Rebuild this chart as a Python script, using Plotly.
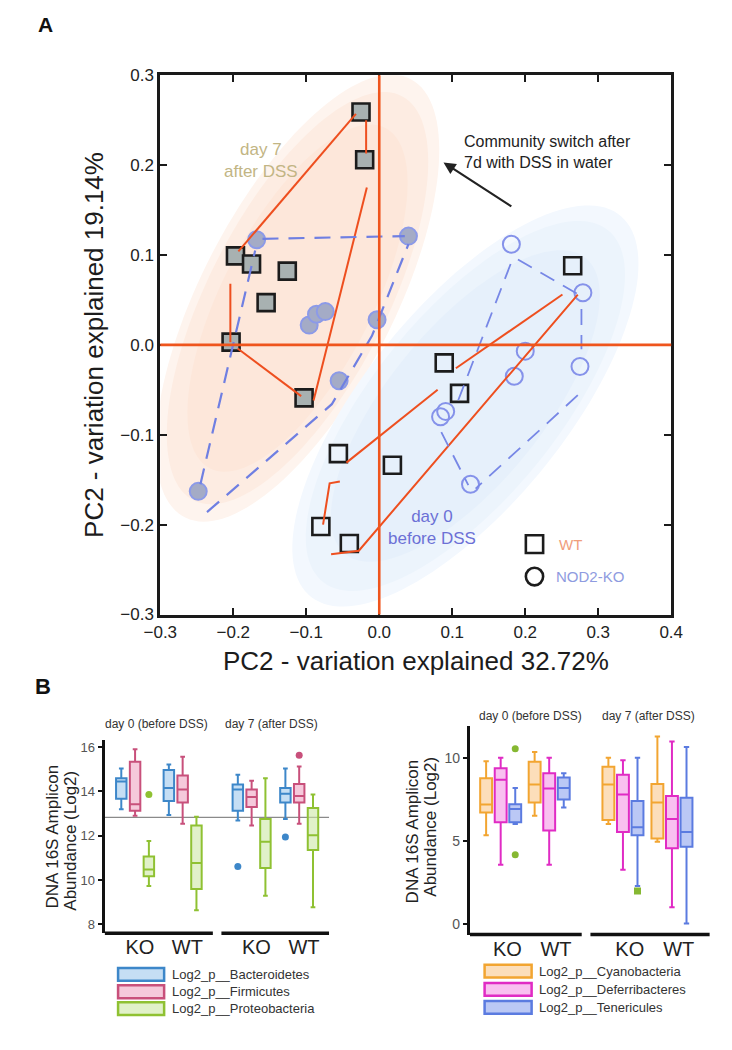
import numpy as np
import plotly.graph_objects as go

# page is 732x1050; the browser body keeps its default 8px margin, so the figure is 716x1034
PAGE_W, PAGE_H = 732, 1050
BODY = 8
W, H = PAGE_W - 2 * BODY, PAGE_H - 2 * BODY
FONT = "Liberation Sans, Arial, sans-serif"

# ---------------- Panel A : PCoA coordinates ----------------
wt_d7_x = [-0.025, -0.020, -0.197, -0.175, -0.126, -0.155, -0.203, -0.103]
wt_d7_y = [0.259, 0.206, 0.099, 0.090, 0.082, 0.047, 0.003, -0.059]
wt_d0_x = [0.265, -0.056, 0.018, -0.080, -0.041, 0.089, 0.110]
wt_d0_y = [0.088, -0.121, -0.134, -0.202, -0.221, -0.020, -0.054]
ko_d7_x = [-0.168, 0.040, -0.003, -0.096, -0.086, -0.074, -0.055, -0.248]
ko_d7_y = [0.117, 0.121, 0.028, 0.022, 0.034, 0.037, -0.040, -0.163]
ko_d0_x = [0.181, 0.279, 0.275, 0.200, 0.185, 0.084, 0.091, 0.125]
ko_d0_y = [0.112, 0.058, -0.024, -0.007, -0.035, -0.080, -0.074, -0.155]

# hull outlines as traced in the figure (None separates segments)
wt_hull_x = [-0.193, -0.032, None, -0.018, -0.018, None, -0.017, -0.090, None,
             -0.204, -0.204, None, -0.194, -0.107, None,
             -0.054, -0.068, -0.077, None, -0.066, -0.028, 0.272, None,
             -0.045, 0.080, None, 0.105, 0.251]
wt_hull_y = [0.104, 0.257, None, 0.250, 0.213, None, 0.175, -0.062, None,
             0.068, 0.003, None, -0.004, -0.057, None,
             -0.152, -0.154, -0.200, None, -0.233, -0.229, 0.056, None,
             -0.131, -0.050, None, -0.026, 0.056]
ko7_hull_x = [-0.236, -0.065, -0.010, 0.040, None, -0.160, 0.035, None, -0.245, -0.170]
ko7_hull_y = [-0.186, -0.066, 0.010, 0.112, None, 0.118, 0.121, None, -0.155, 0.105]
ko0_hull_x = [0.190, 0.275, None, 0.277, 0.277, None, 0.272, 0.132, None,
              0.085, 0.122, None, 0.180, 0.108]
ko0_hull_y = [0.095, 0.055, None, 0.040, -0.005, None, -0.056, -0.160, None,
              -0.097, -0.156, None, 0.090, -0.062]

pc_ticks = [-0.3, -0.2, -0.1, 0.0, 0.1, 0.2, 0.3, 0.4]

# ---------------- Panel B : box statistics ----------------
group_labels = ["KO", "WT", "KO", "WT"]
day_labels = ["day 0 (before DSS)", "day 7 (after DSS)"]

bact_low = [13.20, 12.94, 12.69, 12.76]
bact_q1 = [13.67, 13.57, 13.13, 13.50]
bact_med = [14.45, 14.16, 14.09, 13.90]
bact_q3 = [14.60, 14.97, 14.31, 14.16]
bact_high = [15.04, 15.22, 14.75, 15.04]
bact_out_grp = [2, 3]
bact_out_val = [10.62, 11.95]

firm_low = [12.90, 12.54, 12.47, 12.54]
firm_q1 = [13.13, 13.50, 13.30, 13.50]
firm_med = [13.42, 14.09, 13.75, 13.79]
firm_q3 = [15.34, 14.72, 14.09, 14.34]
firm_high = [15.90, 15.56, 14.48, 15.12]
firm_out_grp = [3]
firm_out_val = [15.63]

prot_low = [9.74, 8.64, 9.30, 8.78]
prot_q1 = [10.18, 9.60, 10.55, 11.36]
prot_med = [10.48, 10.77, 11.73, 12.02]
prot_q3 = [11.07, 12.47, 12.76, 13.25]
prot_high = [11.77, 12.86, 14.60, 13.86]
prot_out_grp = [0]
prot_out_val = [13.86]

ref_level = 12.83

cyan_low = [5.34, 6.52, 6.03, 4.95]
cyan_q1 = [6.72, 7.31, 6.27, 5.15]
cyan_med = [7.20, 8.39, 8.39, 7.31]
cyan_q3 = [8.78, 9.76, 9.47, 8.43]
cyan_high = [9.80, 10.35, 10.00, 11.28]

defe_low = [3.58, 3.58, 3.28, 1.02]
defe_q1 = [6.13, 5.64, 5.54, 4.56]
defe_med = [8.68, 8.15, 7.80, 6.33]
defe_q3 = [9.37, 9.08, 8.98, 7.70]
defe_high = [10.00, 10.00, 9.86, 10.98]

tene_low = [6.03, 7.01, 2.30, 0.04]
tene_q1 = [6.13, 7.50, 5.34, 4.66]
tene_med = [6.92, 8.19, 5.83, 5.54]
tene_q3 = [7.21, 8.82, 7.41, 7.60]
tene_high = [8.19, 9.08, 10.00, 10.65]
tene_out_grp = [0, 0, 2]
tene_out_val = [10.55, 4.17, 2.00]
tene_out_sym = ["circle", "circle", "square"]

left_names = ["Log2_p__Bacteroidetes", "Log2_p__Firmicutes", "Log2_p__Proteobacteria"]
right_names = ["Log2_p__Cyanobacteria", "Log2_p__Deferribacteres", "Log2_p__Tenericules"]


# ---------------- helpers (page pixel -> paper) ----------------
def fx(px):
    return (px - BODY) / W


def fy(py):
    return 1 - (py - BODY) / H


SX, SY = 760.7, 915.7  # px per data unit (panel A)


def ellipse_path(cx, cy, a, b, ang, scale=1.0):
    t = np.linspace(0, 2 * np.pi, 140)
    th = np.radians(ang)
    a, b = a * scale, b * scale
    ex = a * np.cos(t) * np.cos(th) - b * np.sin(t) * np.sin(th)
    ey = a * np.cos(t) * np.sin(th) + b * np.sin(t) * np.cos(th)
    xs = cx + ex / SX
    ys = cy + ey / SY
    return "M " + " L ".join(f"{x:.4f},{y:.4f}" for x, y in zip(xs, ys)) + " Z"


def note(px, py, text, size, color, xa="center", ya="middle", angle=0, align="center"):
    return dict(x=fx(px), y=fy(py), xref="paper", yref="paper", text=text,
                xanchor=xa, yanchor=ya, textangle=angle, align=align, showarrow=False,
                font=dict(size=size, color=color, family=FONT))


fig = go.Figure()
shapes = []
ann = []

# soft background ellipses
for sc, col in [(1.03, "#fef4ee"), (0.95, "#fdece2"), (0.8, "#fde7da")]:
    shapes.append(dict(type="path", xref="x", yref="y", layer="below",
                       path=ellipse_path(-0.112, 0.052, 245, 97, 62, sc),
                       fillcolor=col, line=dict(width=0)))
for sc, col in [(1.03, "#f3f8fe"), (0.95, "#ecf4fc"), (0.8, "#e6f0fb")]:
    shapes.append(dict(type="path", xref="x", yref="y", layer="below",
                       path=ellipse_path(0.118, -0.068, 245, 100, 50, sc),
                       fillcolor=col, line=dict(width=0)))

# markers
fig.add_trace(go.Scatter(x=wt_d7_x, y=wt_d7_y, mode="markers",
                         marker=dict(symbol="square", size=17, color="#a8b1b1",
                                     line=dict(color="#1c1c1c", width=2.6))))
fig.add_trace(go.Scatter(x=wt_d0_x, y=wt_d0_y, mode="markers",
                         marker=dict(symbol="square", size=17, color="rgba(0,0,0,0)",
                                     line=dict(color="#1c1c1c", width=2.6))))
fig.add_trace(go.Scatter(x=ko_d7_x, y=ko_d7_y, mode="markers",
                         marker=dict(symbol="circle", size=17, color="#a4abc6",
                                     line=dict(color="#8c9ae8", width=2))))
fig.add_trace(go.Scatter(x=ko_d0_x, y=ko_d0_y, mode="markers",
                         marker=dict(symbol="circle", size=17, color="rgba(0,0,0,0)",
                                     line=dict(color="#8592ea", width=2))))
# hull lines
fig.add_trace(go.Scatter(x=wt_hull_x, y=wt_hull_y, mode="lines", connectgaps=False,
                         line=dict(color="#ee4f1f", width=2)))
fig.add_trace(go.Scatter(x=ko7_hull_x, y=ko7_hull_y, mode="lines", connectgaps=False,
                         line=dict(color="#6f7fe2", width=2.2, dash="16px,10px")))
fig.add_trace(go.Scatter(x=ko0_hull_x, y=ko0_hull_y, mode="lines", connectgaps=False,
                         line=dict(color="#7787e6", width=1.8, dash="16px,10px")))

# orange zero lines drawn over the points
shapes.append(dict(type="line", xref="x", yref="y domain", x0=0, x1=0, y0=0, y1=1,
                   layer="above", line=dict(color="#ef551d", width=2.6)))
shapes.append(dict(type="line", xref="x domain", yref="y", x0=0, x1=1, y0=0, y1=0,
                   layer="above", line=dict(color="#ef551d", width=2.6)))

# panel A texts
ann.append(dict(x=-0.162, y=0.205, xref="x", yref="y", text="day 7<br>after DSS",
                xanchor="center", yanchor="middle", showarrow=False,
                font=dict(size=17, color="#c2b584", family=FONT)))
ann.append(dict(x=0.072, y=-0.203, xref="x", yref="y", text="day 0<br>before DSS",
                xanchor="center", yanchor="middle", showarrow=False,
                font=dict(size=17, color="#6c70d6", family=FONT)))
ann.append(dict(x=0.113, y=0.215, xref="x", yref="y", xanchor="left", yanchor="middle",
                text="Community switch after<br>7d with DSS in water", align="left",
                showarrow=False, font=dict(size=16, color="#222222", family=FONT)))
ann.append(dict(x=0.088, y=0.203, xref="x", yref="y", ax=0.183, ay=0.153,
                axref="x", ayref="y", text="", showarrow=True, arrowhead=2,
                arrowsize=1.1, arrowwidth=2.2, arrowcolor="#222222"))

# panel A legend
shapes.append(dict(type="rect", xref="paper", yref="paper",
                   x0=fx(530), x1=fx(548), y0=fy(554), y1=fy(536),
                   line=dict(color="#1c1c1c", width=2.6)))
shapes.append(dict(type="circle", xref="paper", yref="paper",
                   x0=fx(530), x1=fx(548), y0=fy(587), y1=fy(569),
                   line=dict(color="#1c1c1c", width=2.6)))
ann.append(note(562, 545, "WT", 15, "#f09d7c", xa="left"))
ann.append(note(559, 578, "NOD2-KO", 15, "#8f9be0", xa="left"))

# axis titles panel A and panel letters
ann.append(note(80, 342, "PC2 - variation explained 19.14%", 26, "#1c1c1c", angle=-90))
ann.append(note(415, 664, "PC2 - variation explained 32.72%", 26, "#1c1c1c"))
ann.append(note(29, 16, "<b>A</b>", 21, "#111111"))
ann.append(note(27, 690, "<b>B</b>", 22, "#111111"))

# ---------------- Panel B ----------------
left_pos = [1.0, 2.0, 3.45, 4.45]
right_pos = [1.0, 2.0, 3.52, 4.53]
L_OFF, R_OFF = 0.29, 0.30
left_range = [0.36, 5.08]
right_range = [0.366, 5.31]

left_series = [
    (bact_low, bact_q1, bact_med, bact_q3, bact_high, "#3d87c9", "rgba(150,195,235,0.55)", -L_OFF),
    (firm_low, firm_q1, firm_med, firm_q3, firm_high, "#c8507b", "rgba(238,165,195,0.6)", 0.0),
    (prot_low, prot_q1, prot_med, prot_q3, prot_high, "#8fc132", "rgba(205,232,165,0.6)", L_OFF),
]
right_series = [
    (cyan_low, cyan_q1, cyan_med, cyan_q3, cyan_high, "#f2a531", "rgba(250,200,140,0.6)", -R_OFF),
    (defe_low, defe_q1, defe_med, defe_q3, defe_high, "#e02bc4", "rgba(245,150,230,0.6)", 0.0),
    (tene_low, tene_q1, tene_med, tene_q3, tene_high, "#5b7be0", "rgba(150,170,240,0.65)", R_OFF),
]

for (lo, q1, md, q3, hi, lc, fc, off) in left_series:
    fig.add_trace(go.Box(x=[p + off for p in left_pos], lowerfence=lo, q1=q1, median=md,
                         q3=q3, upperfence=hi, xaxis="x2", yaxis="y2", width=0.22,
                         whiskerwidth=0.45, boxpoints=False, fillcolor=fc,
                         line=dict(color=lc, width=2)))
for (lo, q1, md, q3, hi, lc, fc, off) in right_series:
    fig.add_trace(go.Box(x=[p + off for p in right_pos], lowerfence=lo, q1=q1, median=md,
                         q3=q3, upperfence=hi, xaxis="x3", yaxis="y3", width=0.245,
                         whiskerwidth=0.45, boxpoints=False, fillcolor=fc,
                         line=dict(color=lc, width=2)))

# outliers
fig.add_trace(go.Scatter(x=[left_pos[g] - L_OFF for g in bact_out_grp], y=bact_out_val,
                         mode="markers", xaxis="x2", yaxis="y2",
                         marker=dict(color="#3d87c9", size=7)))
fig.add_trace(go.Scatter(x=[left_pos[g] for g in firm_out_grp], y=firm_out_val,
                         mode="markers", xaxis="x2", yaxis="y2",
                         marker=dict(color="#c8507b", size=7)))
fig.add_trace(go.Scatter(x=[left_pos[g] + L_OFF for g in prot_out_grp], y=prot_out_val,
                         mode="markers", xaxis="x2", yaxis="y2",
                         marker=dict(color="#8fc132", size=7)))
fig.add_trace(go.Scatter(x=[right_pos[g] + R_OFF for g in tene_out_grp], y=tene_out_val,
                         mode="markers", xaxis="x3", yaxis="y3",
                         marker=dict(color="#86b832", size=7, symbol=tene_out_sym)))

# reference line (left)
shapes.append(dict(type="line", xref="x2", yref="y2", x0=left_range[0], x1=left_range[1],
                   y0=ref_level, y1=ref_level, line=dict(color="#8a8a8a", width=1.2),
                   layer="below"))

# split x-axis baselines
for pos, rng, xr, yr in [(left_pos, left_range, "x2", "y2"), (right_pos, right_range, "x3", "y3")]:
    mid = (pos[1] + pos[2]) / 2
    for a0, a1 in [(rng[0], mid - 0.09), (mid + 0.09, rng[1])]:
        shapes.append(dict(type="line", xref=xr, yref=f"{yr} domain",
                           x0=a0, x1=a1, y0=0, y1=0, line=dict(color="#111111", width=3.5)))

# day labels
for txt, px, py in [(day_labels[0], 145, 728), (day_labels[1], 265, 728),
                    (day_labels[0], 535, 720), (day_labels[1], 658, 720)]:
    ann.append(note(px, py, txt, 12, "#333333"))

# y titles
for px, py, txt in [(37, 843, "DNA 16S Amplicon"), (55, 847, "Abundance (Log2)"),
                    (412, 838, "DNA 16S Amplicon"), (431, 833, "Abundance (Log2)")]:
    ann.append(note(px, py, txt, 17, "#222222", angle=-90))


# manual legends
def legend_block(x0, x1, ys, series, names):
    for yc, s, name in zip(ys, series, names):
        shapes.append(dict(type="rect", xref="paper", yref="paper",
                           x0=fx(x0), x1=fx(x1), y0=fy(yc + 6.5), y1=fy(yc - 6.5),
                           fillcolor=s[6], line=dict(color=s[5], width=2.5)))
        ann.append(note(x1 + 6, yc, name, 13, "#333333", xa="left"))


legend_block(105, 153, [983.3, 1001, 1018.3], left_series, left_names)
legend_block(487, 536, [980, 998.5, 1017], right_series, right_names)

axis_common = dict(showgrid=False, zeroline=False)
fig.update_layout(
    width=W, height=H, margin=dict(l=0, r=0, t=0, b=0),
    paper_bgcolor="white", plot_bgcolor="rgba(0,0,0,0)",
    showlegend=False, boxmode="overlay",
    font=dict(family=FONT),
    shapes=shapes, annotations=ann,
    xaxis=dict(domain=[fx(149), fx(681.5)], range=[-0.3, 0.4], anchor="y",
               tickvals=pc_ticks, tickformat=".1f", showgrid=False, zeroline=False,
               showline=True, linecolor="#1a1a1a", linewidth=3, mirror="ticks",
               ticks="inside", ticklen=7, tickwidth=2, tickcolor="#1a1a1a",
               tickfont=dict(size=17, color="#222222")),
    yaxis=dict(domain=[fy(616.7), fy(67.3)], range=[-0.3, 0.3], anchor="x",
               tickvals=pc_ticks[:-1], tickformat=".1f", showgrid=False, zeroline=False,
               showline=True, linecolor="#1a1a1a", linewidth=3, mirror="ticks",
               ticks="inside", ticklen=7, tickwidth=2, tickcolor="#1a1a1a",
               tickfont=dict(size=17, color="#222222")),
    xaxis2=dict(domain=[fx(91), fx(325)], range=left_range, anchor="y2",
                tickvals=[p + 0.1 for p in left_pos], ticktext=group_labels,
                ticks="", showline=False, tickfont=dict(size=20, color="#222222"),
                **axis_common),
    yaxis2=dict(domain=[fy(941.5), fy(745)], range=[7.6, 16.3], anchor="x2",
                tickvals=[8, 10, 12, 14, 16], showline=True, linecolor="#111111",
                linewidth=3, ticks="outside", ticklen=4, tickwidth=1.5,
                tickcolor="#111111", tickfont=dict(size=13, color="#555555"),
                **axis_common),
    xaxis3=dict(domain=[fx(471.7), fx(721.7)], range=right_range, anchor="y3",
                tickvals=[p + 0.14 for p in right_pos], ticktext=group_labels,
                ticks="", showline=False, tickfont=dict(size=20, color="#222222"),
                **axis_common),
    yaxis3=dict(domain=[fy(942.7), fy(730)], range=[-0.62, 11.93], anchor="x3",
                tickvals=[0, 5, 10], showline=True, linecolor="#111111",
                linewidth=3, ticks="outside", ticklen=4, tickwidth=1.5,
                tickcolor="#111111", tickfont=dict(size=14, color="#555555"),
                **axis_common),
)

fig.write_html("out.html", config={"displayModeBar": False})
